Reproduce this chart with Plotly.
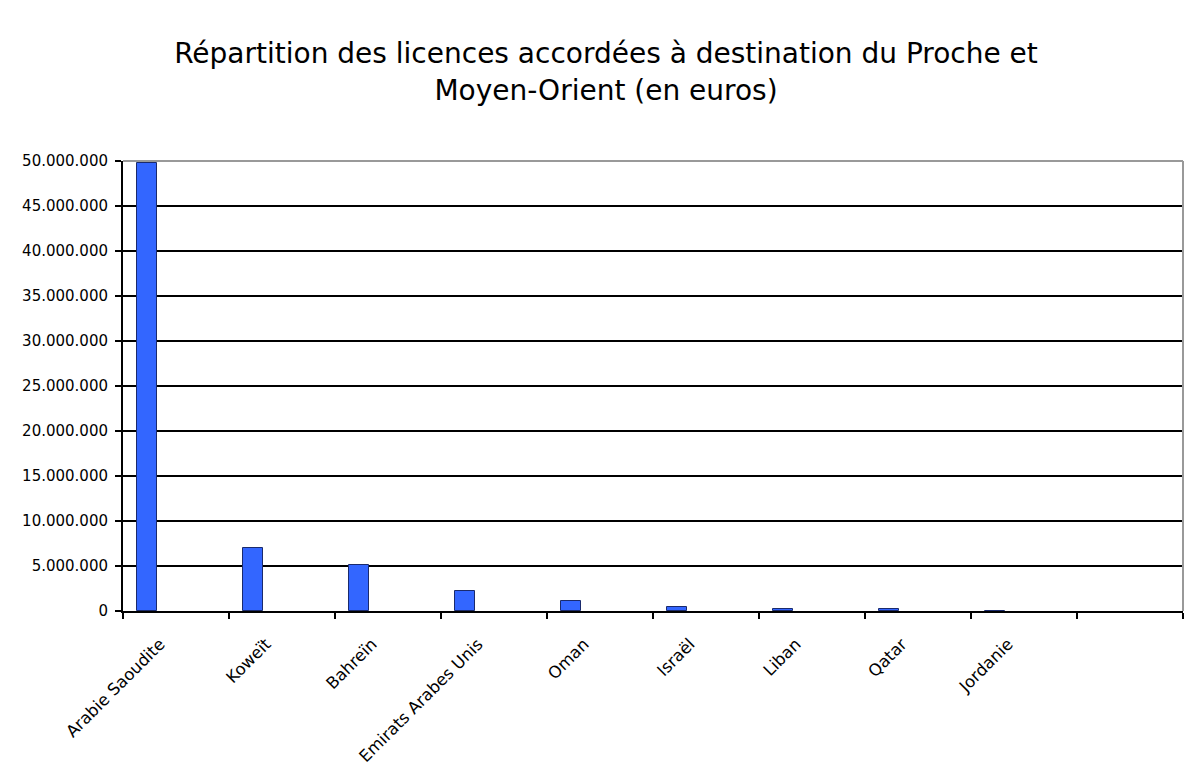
import plotly.graph_objects as go

categories = ["Arabie Saoudite", "Koweït", "Bahreïn", "Emirats Arabes Unis", "Oman",
              "Israël", "Liban", "Qatar", "Jordanie", " "]
values = [49800000, 6970000, 5080000, 2220000, 1110000, 410000, 200000, 190000, 30000, None]
y_ticks = [0, 5000000, 10000000, 15000000, 20000000, 25000000, 30000000, 35000000, 40000000, 45000000, 50000000]
y_tick_labels = ["0", "5.000.000", "10.000.000", "15.000.000", "20.000.000", "25.000.000",
                 "30.000.000", "35.000.000", "40.000.000", "45.000.000", "50.000.000"]

fig = go.Figure()
fig.add_trace(go.Bar(
    x=categories, y=values,
    width=0.19, offset=-0.37,
    marker=dict(color="#3366FF", line=dict(color="#1a2a6c", width=1)),
))

fig.update_layout(
    width=1176, height=766,
    paper_bgcolor="white", plot_bgcolor="white",
    margin=dict(l=115, r=1, t=153, b=163),
    font=dict(family="DejaVu Sans, Verdana, sans-serif", color="black"),
    title=dict(text="Répartition des licences accordées à destination du Proche et<br>Moyen-Orient (en euros)",
               x=0.5085, xanchor="center", y=0.928, yanchor="top",
               font=dict(size=28, family="DejaVu Sans, Verdana, sans-serif", color="black")),
    showlegend=False,
    bargap=0,
)
fig.update_xaxes(
    type="category", categoryorder="array", categoryarray=categories,
    range=[-0.5, 9.5],
    tickson="boundaries", ticks="outside", ticklen=6, tickwidth=2, tickcolor="black",
    showline=True, linecolor="black", linewidth=2,
    tickangle=-45, tickfont=dict(size=16.5, color="black"),
    ticklabelshift=-16, ticklabelstandoff=15,
    showgrid=False,
)
fig.update_yaxes(
    range=[0, 50000000], tickvals=y_ticks, ticktext=y_tick_labels,
    ticks="outside", ticklen=6, tickwidth=2, tickcolor="black",
    showline=True, linecolor="black", linewidth=2,
    showgrid=True, gridcolor="black", gridwidth=2,
    tickfont=dict(size=15, color="black"), zeroline=False,
    ticklabelstandoff=4,
)
fig.add_shape(type="line", xref="paper", yref="paper", x0=0, x1=1, y0=1, y1=1,
              line=dict(color="#999999", width=2), layer="above")
fig.add_shape(type="line", xref="paper", yref="paper", x0=1, x1=1, y0=0, y1=1,
              line=dict(color="#999999", width=2), layer="above")

fig.write_html("out.html")
